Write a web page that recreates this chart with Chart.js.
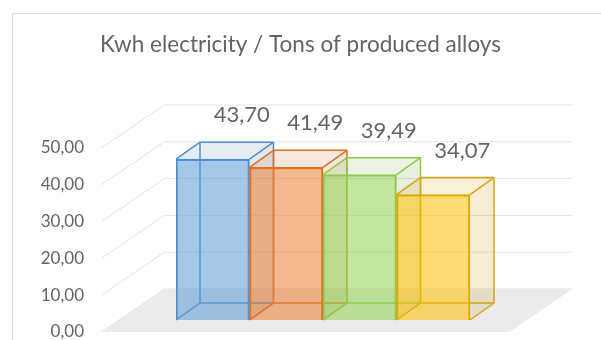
<!DOCTYPE html>
<html>
<head>
<meta charset="utf-8">
<script src="https://cdn.jsdelivr.net/npm/chart.js@4.4.1/dist/chart.umd.min.js"></script>
<style>
    html, body { margin: 0; padding: 0; background: #ffffff; }
    #wrap { width: 601px; height: 340px; position: relative; }
</style>
</head>
<body>
<div id="wrap"><canvas id="chart" width="601" height="340"></canvas></div>
<script>
const categories = ['Alloy 1', 'Alloy 2', 'Alloy 3', 'Alloy 4'];
const kwhPerTon = [43.70, 41.49, 39.49, 34.07];
const yTicks = [0, 10, 20, 30, 40, 50];
const barColors = ['#5b9bd5', '#ed7d31', '#92d050', '#ffc000'];
const edgeColors = ['#4f8fcf', '#de6f26', '#8ccc4a', '#d4a50c'];

const FONT = 'Lato, "Open Sans", sans-serif';
const TEXT = '#646464';

// oblique projection offsets, relative to the plane of the bar fronts
const FRONT = { dx: -17.6, dy: 12 };
const BACK = { dx: 45.4, dy: -31 };
const DEPTH = { dx: 24, dy: -17 };
const FLOOR_EXT = 57;

const fmt = v => v.toFixed(2).replace('.', ',');

function rgba(hex, a) {
    const n = parseInt(hex.slice(1), 16);
    return `rgba(${(n >> 16) & 255}, ${(n >> 8) & 255}, ${n & 255}, ${a})`;
}

function poly(ctx, pts, fill, stroke) {
    ctx.beginPath();
    ctx.moveTo(pts[0][0], pts[0][1]);
    pts.slice(1).forEach(p => ctx.lineTo(p[0], p[1]));
    ctx.closePath();
    if (fill) { ctx.fillStyle = fill; ctx.fill(); }
    if (stroke) { ctx.strokeStyle = stroke; ctx.stroke(); }
}

function line(ctx, x1, y1, x2, y2) {
    ctx.beginPath();
    ctx.moveTo(x1, y1);
    ctx.lineTo(x2, y2);
    ctx.stroke();
}

const scene3d = {
    id: 'scene3d',
    beforeDraw(chart) {
        const ctx = chart.ctx;
        ctx.save();
        ctx.fillStyle = '#ffffff';
        ctx.fillRect(0, 0, chart.width, chart.height);
        ctx.strokeStyle = '#d9d9d9';
        ctx.lineWidth = 1;
        ctx.strokeRect(12.5, 13.5, chart.width + 20, chart.height + 20);
        ctx.restore();
    },
    beforeDatasetsDraw(chart) {
        const ctx = chart.ctx;
        const area = chart.chartArea;
        const y = chart.scales.y;
        const L = area.left - FLOOR_EXT;
        const R = area.right + FLOOR_EXT;
        const y0 = y.getPixelForValue(0);
        ctx.save();

        // walls: gridlines on side and back
        ctx.lineWidth = 1;
        ctx.strokeStyle = '#e3e3e3';
        yTicks.forEach(v => {
            const py = y.getPixelForValue(v);
            ctx.beginPath();
            ctx.moveTo(L + FRONT.dx, py + FRONT.dy);
            ctx.lineTo(L + BACK.dx, py + BACK.dy);
            ctx.lineTo(R + BACK.dx, py + BACK.dy);
            ctx.stroke();
        });

        // axis labels sit on the front edge of the side wall
        ctx.font = `17px ${FONT}`;
        ctx.fillStyle = TEXT;
        ctx.textAlign = 'right';
        ctx.textBaseline = 'middle';
        yTicks.forEach(v => {
            ctx.fillText(fmt(v), 84, y.getPixelForValue(v) + FRONT.dy);
        });

        // floor
        poly(ctx, [
            [L + FRONT.dx, y0 + FRONT.dy],
            [R + FRONT.dx, y0 + FRONT.dy],
            [R + BACK.dx, y0 + BACK.dy],
            [L + BACK.dx, y0 + BACK.dy]
        ], '#ebebeb');

        // back, top and side faces of the boxes
        const meta = chart.getDatasetMeta(0);
        ctx.lineWidth = 1.5;
        meta.data.forEach((bar, i) => {
            const l = bar.x - bar.width / 2;
            const r = bar.x + bar.width / 2;
            const t = bar.y;
            const b = bar.base;
            const dx = DEPTH.dx, dy = DEPTH.dy;
            const edge = edgeColors[i];

            // right side face
            const side = [[r, t], [r + dx, t + dy], [r + dx, b + dy], [r, b]];
            poly(ctx, side, rgba(barColors[i], 0.12), null);
            poly(ctx, side, 'rgba(120, 110, 90, 0.07)', null);
            // top face
            const top = [[l, t], [l + dx, t + dy], [r + dx, t + dy], [r, t]];
            poly(ctx, top, rgba(barColors[i], 0.12), null);
            poly(ctx, top, 'rgba(120, 110, 90, 0.05)', null);

            ctx.strokeStyle = edge;
            // hidden back edges, seen through the glass
            line(ctx, l + dx, t + dy, l + dx, b + dy);
            line(ctx, l + dx, b + dy, r + dx, b + dy);
            line(ctx, l, b, l + dx, b + dy);
            // visible outer edges
            line(ctx, l, t, l + dx, t + dy);
            line(ctx, l + dx, t + dy, r + dx, t + dy);
            line(ctx, r, t, r + dx, t + dy);
            line(ctx, r + dx, t + dy, r + dx, b + dy);
            line(ctx, r, b, r + dx, b + dy);
        });
        ctx.restore();
    },
    afterDatasetsDraw(chart) {
        const ctx = chart.ctx;
        const meta = chart.getDatasetMeta(0);
        ctx.save();
        ctx.font = `22px ${FONT}`;
        ctx.fillStyle = TEXT;
        ctx.textAlign = 'center';
        ctx.textBaseline = 'middle';
        meta.data.forEach((bar, i) => {
            ctx.fillText(fmt(kwhPerTon[i]), bar.x + 29, bar.y - 44);
        });
        ctx.restore();
    }
};

const ctx = document.getElementById('chart').getContext('2d');
new Chart(ctx, {
    type: 'bar',
    data: {
        labels: categories,
        datasets: [{
            label: 'Kwh electricity / Tons of produced alloys',
            data: kwhPerTon,
            backgroundColor: barColors.map(c => rgba(c, 0.55)),
            borderColor: edgeColors,
            borderWidth: 1.5,
            categoryPercentage: 1,
            barPercentage: 1
        }]
    },
    options: {
        responsive: false,
        animation: false,
        devicePixelRatio: 1,
        layout: { padding: { left: 0, right: 0, top: 0, bottom: 20 } },
        plugins: {
            legend: { display: false },
            tooltip: { enabled: false },
            title: {
                display: true,
                text: 'Kwh electricity / Tons of produced alloys',
                color: TEXT,
                font: { family: FONT, size: 22.5, weight: 'normal', lineHeight: 1.2 },
                padding: { top: 31.5, bottom: 77.5 }
            }
        },
        scales: {
            x: { display: false },
            y: {
                min: 0,
                max: 50,
                afterFit: (scale) => { scale.width = 176; },
                border: { display: false },
                grid: { display: false, drawTicks: false },
                ticks: { display: false, stepSize: 10 }
            },
            yRight: {
                position: 'right',
                afterFit: (scale) => { scale.width = 131; },
                border: { display: false },
                grid: { display: false, drawTicks: false },
                ticks: { display: false }
            }
        }
    },
    plugins: [scene3d]
});
</script>
</body>
</html>
